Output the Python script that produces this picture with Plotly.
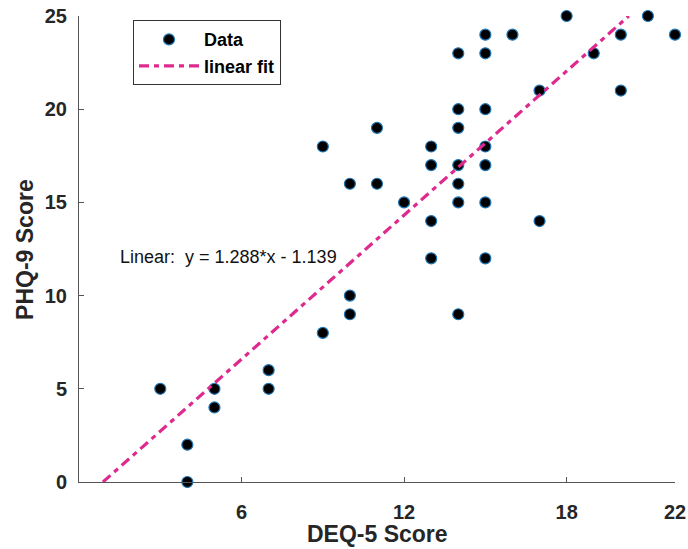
import plotly.graph_objects as go

# Data
deq5 = [3, 4, 4, 5, 5, 7, 7, 9, 9, 10, 10, 10, 11, 11, 12,
        13, 13, 13, 13, 14, 14, 14, 14, 14, 14, 14,
        15, 15, 15, 15, 15, 15, 15, 16, 17, 17, 18, 19, 20, 20, 21, 22]
phq9 = [5, 2, 0, 5, 4, 6, 5, 8, 18, 10, 9, 16, 19, 16, 15,
        18, 17, 14, 12, 23, 20, 19, 17, 16, 15, 9,
        24, 23, 20, 18, 17, 15, 12, 24, 21, 14, 25, 23, 24, 21, 25, 24]

fit_slope = 1.288
fit_intercept = -1.139
y_range = [0, 25]
x_range = [0, 22]
x_ticks = [6, 12, 18, 22]
y_ticks = [0, 5, 10, 15, 20, 25]

# fit line spans where it lies within the y range
fit_x = [(y_range[0] - fit_intercept) / fit_slope, (y_range[1] - fit_intercept) / fit_slope]
fit_y = [fit_slope * v + fit_intercept for v in fit_x]

font_family = "Liberation Sans, Arial, sans-serif"
txt = "#262626"

fig = go.Figure()
fig.add_trace(go.Scatter(
    x=deq5, y=phq9, mode="markers", name="Data",
    marker=dict(size=11, color="black", line=dict(color="#1f77b4", width=1.2)),
    cliponaxis=False,
))
fig.add_trace(go.Scatter(
    x=fit_x, y=fit_y, mode="lines", name="linear fit",
    line=dict(color="#DE2A8E", width=3.2, dash="10px,5px,5px,5px"),
    cliponaxis=False,
))

fig.add_annotation(
    x=1.43, y=12.05, xref="x", yref="y", xanchor="left", yanchor="middle",
    text="Linear:  y = 1.288*x - 1.139", showarrow=False,
    font=dict(family=font_family, size=18, color="#111111"),
)
# axis titles
fig.add_annotation(
    x=-0.0906, y=0.498, xref="paper", yref="paper", xanchor="center", yanchor="middle",
    text="PHQ-9 Score", textangle=-90, showarrow=False,
    font=dict(family=font_family, size=23, color=txt, weight="bold"),
)
fig.add_annotation(
    x=0.5, y=-0.1425, xref="paper", yref="paper", xanchor="center", yanchor="bottom",
    text="DEQ-5 Score", showarrow=False, borderpad=0,
    font=dict(family=font_family, size=23, color=txt, weight="bold"),
)

axis_common = dict(
    showgrid=False, zeroline=False, showline=True, linecolor="#555555", linewidth=1,
    ticks="inside", ticklen=5, tickcolor="#555555", mirror=False, automargin=False,
    tickfont=dict(family=font_family, size=20, color=txt, weight="bold"),
)

fig.update_xaxes(range=x_range, tickvals=x_ticks, ticklabelstandoff=12, **axis_common)
fig.update_yaxes(range=y_range, tickvals=y_ticks, ticklabelstandoff=7, **axis_common)

fig.update_layout(
    width=688, height=549,
    margin=dict(l=79, r=13, t=16, b=67),
    plot_bgcolor="white", paper_bgcolor="white",
    showlegend=True,
    legend=dict(
        x=0.0906, y=0.991, xanchor="left", yanchor="top",
        bordercolor="#333333", borderwidth=1, bgcolor="white",
        font=dict(family=font_family, size=18, color="black", weight="bold"),
        itemwidth=60, tracegroupgap=0,
    ),
)

fig.write_html(
    "out.html",
    config={"displayModeBar": False},
    post_script="document.body.style.margin='0';document.body.style.padding='0';document.body.style.overflow='hidden';",
)
